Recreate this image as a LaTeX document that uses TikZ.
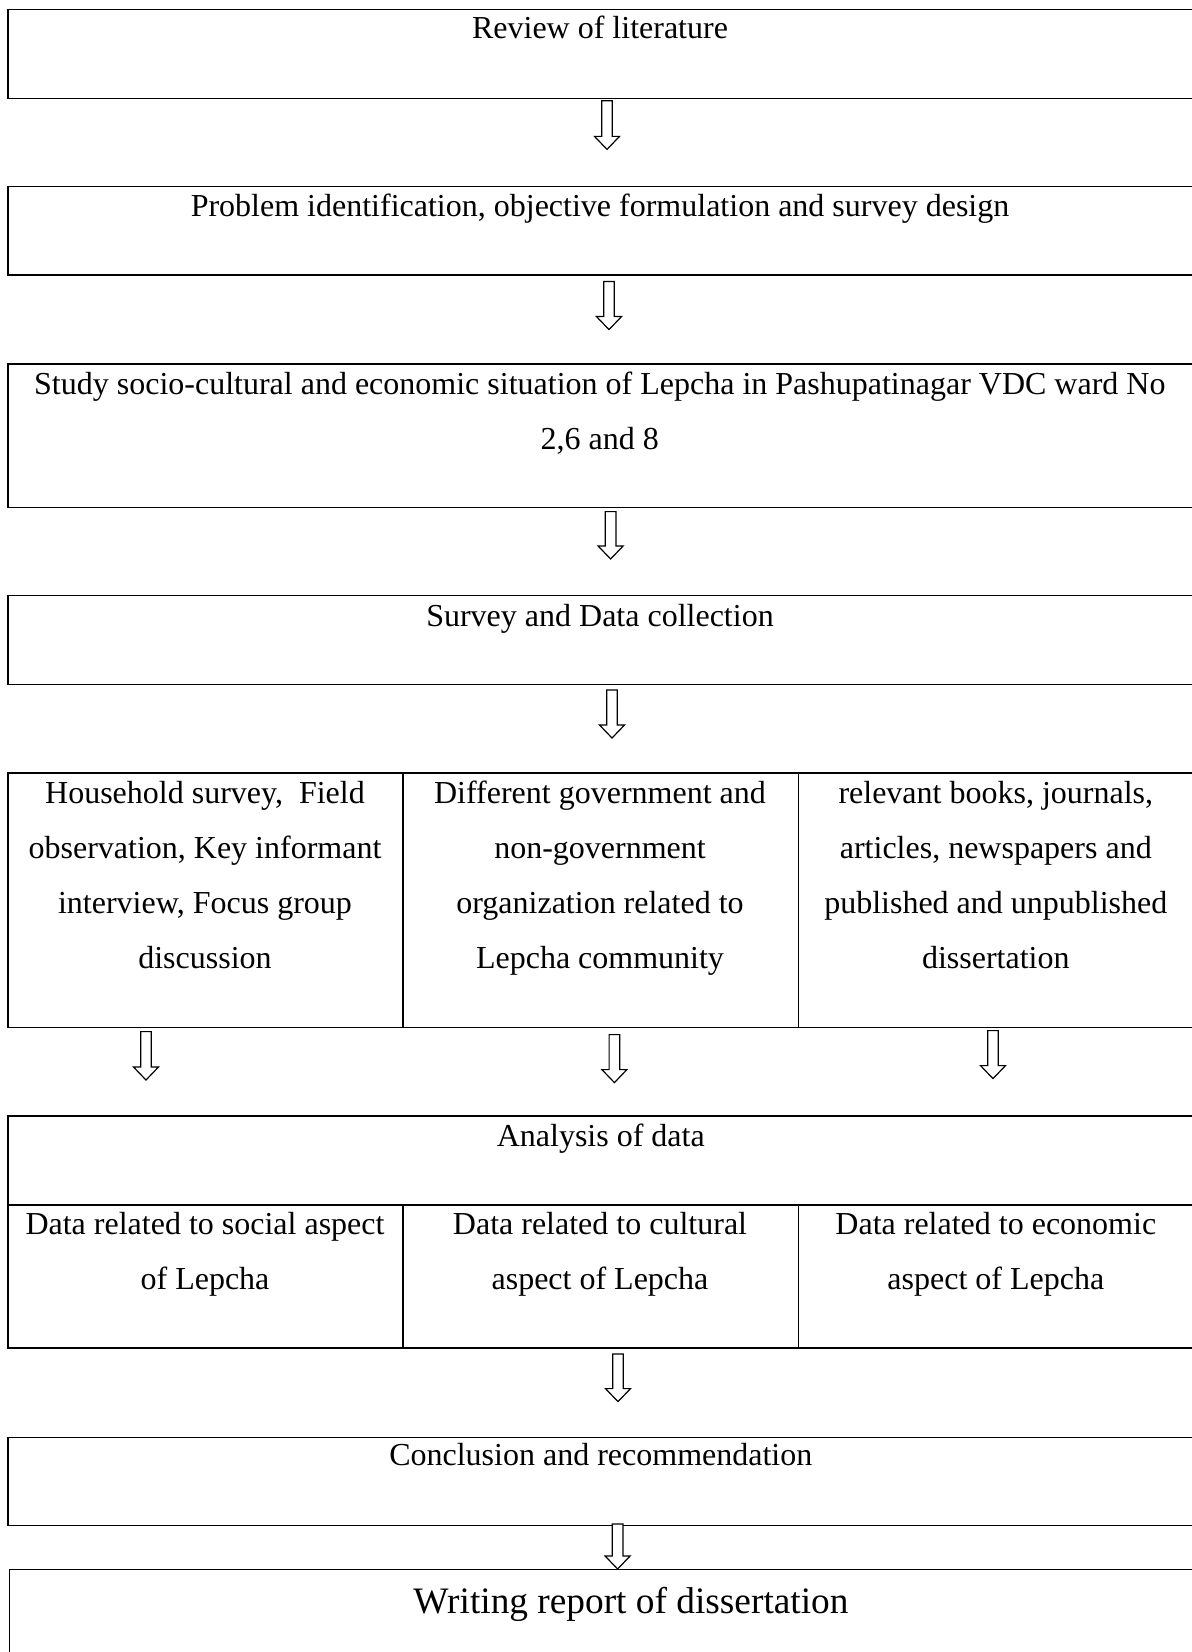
\documentclass[tikz,border=0pt]{standalone}
\usepackage{fontspec}
\setmainfont{Liberation Serif}
\usetikzlibrary{calc}

\begin{document}
\begin{tikzpicture}[x = 1pt, y = -1pt,
	box/.style = {draw, line width = 0.6pt, anchor = north west, inner sep = 0pt, minimum width = 593.3pt},
	cell/.style = {box, minimum width = 197.6pt},
	txt/.style = {anchor = base, inner sep = 0pt, align = center, font = \fontsize{16}{27.5}\selectfont},
	blockarr/.style = {draw, fill = white, line width = 0.6pt,
		to path = {let \p1 = (\tikztostart), \p2 = (\tikztotarget) in
			(\x1-2.65pt,\y1) -- (\x1+2.65pt,\y1) -- (\x1+2.65pt,\y2+6.5pt) -- (\x1+6.25pt,\y2+6.5pt)
			-- (\x1,\y2) -- (\x1-6.25pt,\y2+6.5pt) -- (\x1-2.65pt,\y2+6.5pt) -- cycle}}]
	\useasboundingbox (0,0) rectangle (596,826);
	\clip (0,0) rectangle (596,826);

	% boxes
	\node (review) at (3.7,4.6) [box, minimum height = 44.4pt] {};
	\node (problem) at (3.7,93) [box, minimum height = 44.2pt] {};
	\node (study) at (3.7,181.7) [box, minimum height = 71.7pt] {};
	\node (survey) at (3.7,297.5) [box, minimum height = 44.5pt] {};
	\node (household) at (3.7,386.2) [cell, minimum height = 127.2pt] {};
	\node (ngo) at (201.2,386.2) [cell, minimum height = 127.2pt] {};
	\node (books) at (398.9,386.2) [cell, minimum width = 198.1pt, minimum height = 127.2pt] {};
	\node (analysis) at (3.7,557.7) [box, minimum height = 116pt] {};
	\node (social) at (3.7,602.2) [cell, minimum height = 71.5pt] {};
	\node (cultural) at (201.2,602.2) [cell, minimum height = 71.5pt] {};
	\node (economic) at (398.9,602.2) [cell, minimum width = 198.1pt, minimum height = 71.5pt] {};
	\node (conclusion) at (3.7,718.4) [box, minimum height = 44.1pt] {};
	\node (report) at (4.6,784.5) [box, minimum width = 630pt, minimum height = 60pt] {};

	% texts (base = last line)
	\node (review-t) at (300,19.5) [txt] {Review of literature};
	\node (problem-t) at (300,108.3) [txt] {Problem identification, objective formulation and survey design};
	\node (study-t) at (299.9,225) [txt] {Study socio-cultural and economic situation of Lepcha in Pashupatinagar VDC ward No\\2,6 and 8};
	\node (survey-t) at (300,313.4) [txt] {Survey and Data collection};
	\node (household-t) at (102.5,484.2) [txt] {Household survey,\ \ Field\\observation, Key informant\\interview, Focus group\\discussion};
	\node (ngo-t) at (300,484.2) [txt] {Different government and\\non-government\\organization related to\\Lepcha community};
	\node (books-t) at (497.9,484.2) [txt] {relevant books, journals,\\articles, newspapers and\\published and unpublished\\dissertation};
	\node (analysis-t) at (300.4,573.4) [txt] {Analysis of data};
	\node (social-t) at (102.5,644.5) [txt] {Data related to social aspect\\of Lepcha};
	\node (cultural-t) at (300,644.5) [txt] {Data related to cultural\\aspect of Lepcha};
	\node (economic-t) at (497.9,644.5) [txt] {Data related to economic\\aspect of Lepcha};
	\node (conclusion-t) at (300.4,732.5) [txt] {Conclusion and recommendation};
	\node (report-t) at (315.5,806.7) [txt, font = \fontsize{18.67}{27.5}\selectfont] {Writing report of dissertation};

	% arrows
	\coordinate (a1) at (303.5,50.4);   \coordinate (b1) at (303.5,74.7);
	\coordinate (a2) at (304.5,140.8);  \coordinate (b2) at (304.5,164.8);
	\coordinate (a3) at (305.3,255.8);  \coordinate (b3) at (305.3,279.5);
	\coordinate (a4) at (306,345);      \coordinate (b4) at (306,369);
	\coordinate (a5) at (73,515.8);     \coordinate (b5) at (73,540);
	\coordinate (a6) at (307.2,517.3);  \coordinate (b6) at (307.2,541.3);
	\coordinate (a7) at (496.5,515.3);  \coordinate (b7) at (496.5,539.3);
	\coordinate (a8) at (309,677);      \coordinate (b8) at (309,700.8);
	\coordinate (a9) at (308.8,762);    \coordinate (b9) at (308.8,784.5);
	\foreach \i in {1,...,9}
		\draw[blockarr] (a\i) to (b\i);
\end{tikzpicture}
\end{document}
